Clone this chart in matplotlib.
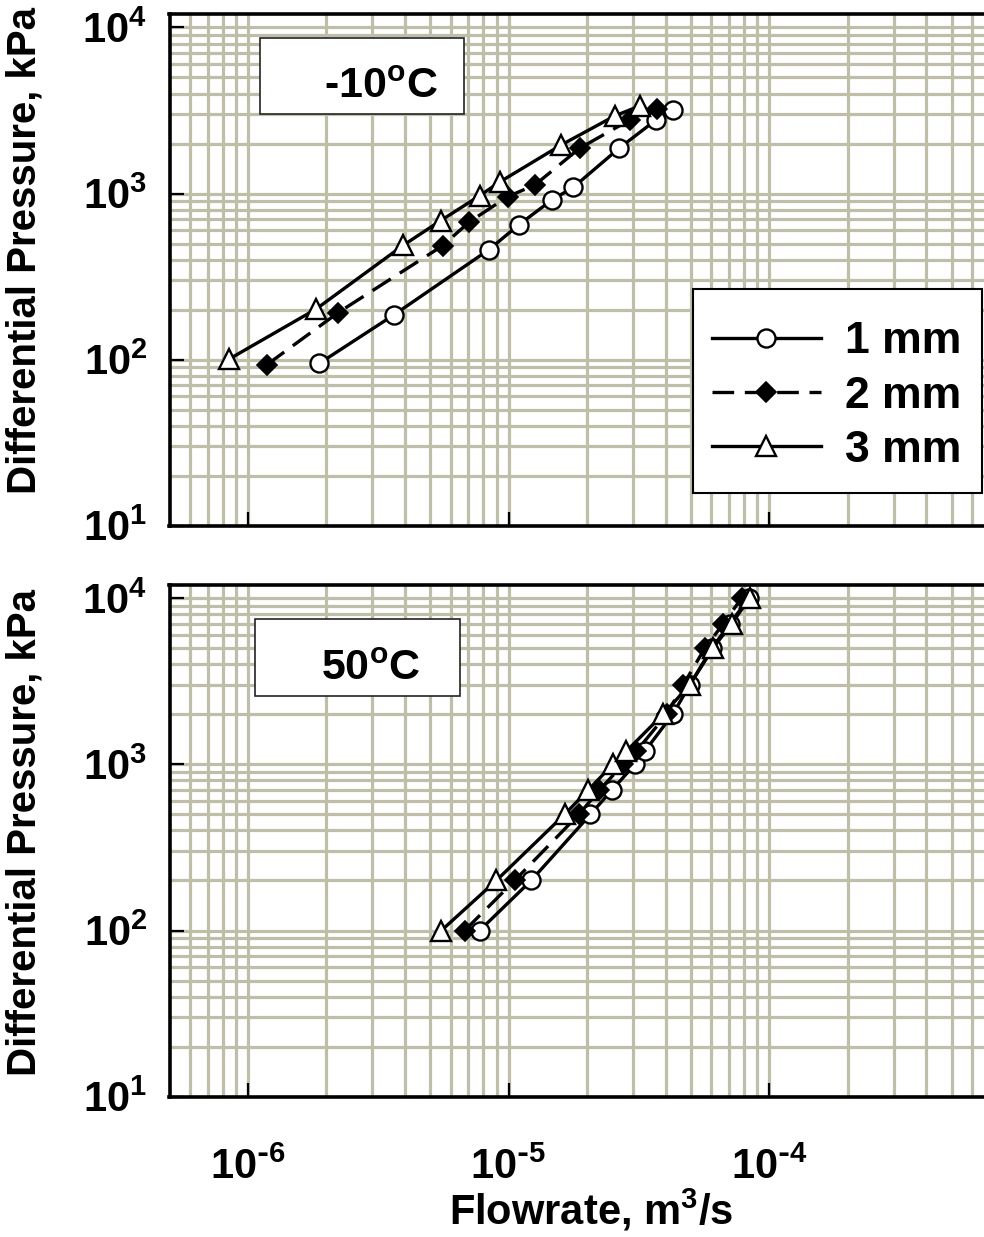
import matplotlib
matplotlib.use('Agg')
import matplotlib.pyplot as plt
from matplotlib.patches import Rectangle
from matplotlib.lines import Line2D
import matplotlib.ticker as mticker
import math

plt.rcParams['font.family'] = ['Liberation Sans', 'DejaVu Sans']
plt.rcParams['font.weight'] = 'bold'
plt.rcParams['axes.unicode_minus'] = False
plt.rcParams['mathtext.default'] = 'regular'

# ---------------- data ----------------
labels = ['1 mm', '2 mm', '3 mm']
panel_titles = ['-10$^{\\mathdefault{o}}$C', '50$^{\\mathdefault{o}}$C']

# -10 C panel: flowrate (m3/s) and differential pressure (kPa)
q1_cold = [1.88e-6, 3.63e-6, 8.40e-6, 1.095e-5, 1.47e-5, 1.77e-5, 2.65e-5, 3.67e-5, 4.27e-5]
p1_cold = [95, 186, 459, 649, 918, 1090, 1871, 2770, 3198]
q2_cold = [1.18e-6, 2.22e-6, 5.58e-6, 7.05e-6, 9.93e-6, 1.26e-5, 1.87e-5, 2.91e-5, 3.71e-5]
p2_cold = [93, 192, 485, 673, 959, 1125, 1871, 2770, 3250]
q3_cold = [8.49e-7, 1.82e-6, 3.95e-6, 5.48e-6, 7.74e-6, 9.24e-6, 1.59e-5, 2.55e-5, 3.18e-5]
p3_cold = [101, 201, 489, 686, 970, 1173, 1960, 2930, 3367]

# 50 C panel
p_hot = [100, 200, 500, 700, 1000, 1200, 2000, 3000, 5000, 7000, 10000]
q1_hot = [7.74e-6, 1.22e-5, 2.06e-5, 2.49e-5, 3.05e-5, 3.33e-5, 4.26e-5, 4.95e-5, 6.02e-5, 7.05e-5, 8.34e-5]
q2_hot = [6.78e-6, 1.055e-5, 1.86e-5, 2.23e-5, 2.75e-5, 3.09e-5, 4.04e-5, 4.67e-5, 5.66e-5, 6.65e-5, 7.83e-5]
q3_hot = [5.52e-6, 8.97e-6, 1.64e-5, 2.02e-5, 2.51e-5, 2.83e-5, 3.91e-5, 4.95e-5, 6.08e-5, 7.16e-5, 8.41e-5]

x_lim = (5e-7, 1e-3)
y_lim = (10, 1.2e4)
x_ticks = [1e-6, 1e-5, 1e-4]
y_ticks = [10, 100, 1000, 10000]

# ---------------- styles ----------------
GRID = '#BEBEA9'
styles = [
    dict(color='black', lw=2.4, ls='-', marker='o', ms=13, mfc='white', mec='black', mew=1.7),
    dict(color='black', lw=2.4, ls=(0, (6.5, 3.2)), marker='D', ms=10.5, mfc='black', mec='black', mew=1.2),
    dict(color='black', lw=2.4, ls='-', marker='^', ms=14, mfc='white', mec='black', mew=1.7),
]

def pow_label(v, pos):
    e = int(round(math.log10(v)))
    if e < 0:
        return '$\\mathdefault{10^{\\text{-}%d}}$' % (-e)
    return '$\\mathdefault{10^{%d}}$' % e

W_PX, H_PX = 984, 1237
fig = plt.figure(figsize=(W_PX / 100, H_PX / 100), dpi=100)

def fx(px):
    return px / W_PX

def fy(py):
    return 1 - py / H_PX

ax_left, ax_right = 169.5, 1030
ax1 = fig.add_axes([fx(ax_left), fy(525.7), (ax_right - ax_left) / W_PX, (525.7 - 14.3) / H_PX])
ax2 = fig.add_axes([fx(ax_left), fy(1096.7), (ax_right - ax_left) / W_PX, (1096.7 - 585) / H_PX])

cold = [(q1_cold, p1_cold), (q2_cold, p2_cold), (q3_cold, p3_cold)]
hot = [(q1_hot, p_hot), (q2_hot, p_hot), (q3_hot, p_hot)]

for ax, series in ((ax1, cold), (ax2, hot)):
    ax.set_xscale('log')
    ax.set_yscale('log')
    ax.set_xlim(*x_lim)
    ax.set_ylim(*y_lim)
    ax.set_axisbelow(True)
    ax.grid(True, which='both', color=GRID, lw=2.3)
    for (q, p), st in zip(series, styles):
        ax.plot(q, p, **st, zorder=3)
    ax.xaxis.set_major_locator(mticker.FixedLocator(x_ticks))
    ax.yaxis.set_major_locator(mticker.FixedLocator(y_ticks))
    ax.xaxis.set_major_formatter(mticker.FuncFormatter(pow_label))
    ax.yaxis.set_major_formatter(mticker.FuncFormatter(pow_label))
    ax.xaxis.set_minor_locator(mticker.LogLocator(base=10, subs=range(2, 10)))
    ax.yaxis.set_minor_locator(mticker.LogLocator(base=10, subs=range(2, 10)))
    ax.xaxis.set_minor_formatter(mticker.NullFormatter())
    ax.yaxis.set_minor_formatter(mticker.NullFormatter())
    ax.tick_params(which='major', direction='in', length=10, width=1.6,
                   top=False, right=False, labelsize=30)
    ax.tick_params(which='minor', length=0)
    ax.tick_params(axis='y', pad=16)
    ax.tick_params(axis='x', pad=37)
    for sp in ax.spines.values():
        sp.set_linewidth(2.6)
    for lab in ax.get_xticklabels() + ax.get_yticklabels():
        lab.set_fontweight('bold')

ax1.tick_params(axis='x', labelbottom=False)

# temperature boxes
boxes = [((260, 37.7, 464, 114), (381, 98)), ((255, 619, 460, 696), (371, 680))]
for ((x0, y0, x1, y1), (tx, ty)), title, ax in zip(boxes, panel_titles, (ax1, ax2)):
    rect = Rectangle((fx(x0), fy(y1)), (x1 - x0) / W_PX, (y1 - y0) / H_PX,
                     transform=fig.transFigure, facecolor='white', edgecolor='#222222', lw=1.2, zorder=4)
    ax.add_patch(rect)
    fig.text(fx(tx), fy(ty), title, ha='center', va='baseline', fontsize=31, fontweight='bold', zorder=5)

# legend frame (drawn separately) + legend entries
lx0, ly0, lx1, ly1 = 693, 289, 982, 493
ax1.add_patch(Rectangle((fx(lx0), fy(ly1)), (lx1 - lx0) / W_PX, (ly1 - ly0) / H_PX,
                        transform=fig.transFigure, facecolor='white', edgecolor='black',
                        lw=1.5, zorder=4))
handles = [Line2D([], [], **st) for st in styles]
leg = ax1.legend(handles, labels, loc='center left',
                 bbox_to_anchor=(fx(712), fy(396)), bbox_transform=fig.transFigure,
                 frameon=False, handlelength=2.45, handletextpad=0.55, labelspacing=0.3,
                 borderpad=0, borderaxespad=0, prop={'weight': 'bold', 'size': 32})
leg.set_zorder(6)

# axis labels
fig.text(fx(25), fy(251), 'Differential Pressure, kPa', rotation=90, ha='center', va='center',
         fontsize=29, fontweight='bold')
fig.text(fx(25), fy(833), 'Differential Pressure, kPa', rotation=90, ha='center', va='center',
         fontsize=29, fontweight='bold')
fig.text(fx(591), fy(1210), 'Flowrate, m$^{\\mathdefault{3}}$/s', ha='center', va='center',
         fontsize=30, fontweight='bold')

fig.savefig('out.png', dpi=100)
